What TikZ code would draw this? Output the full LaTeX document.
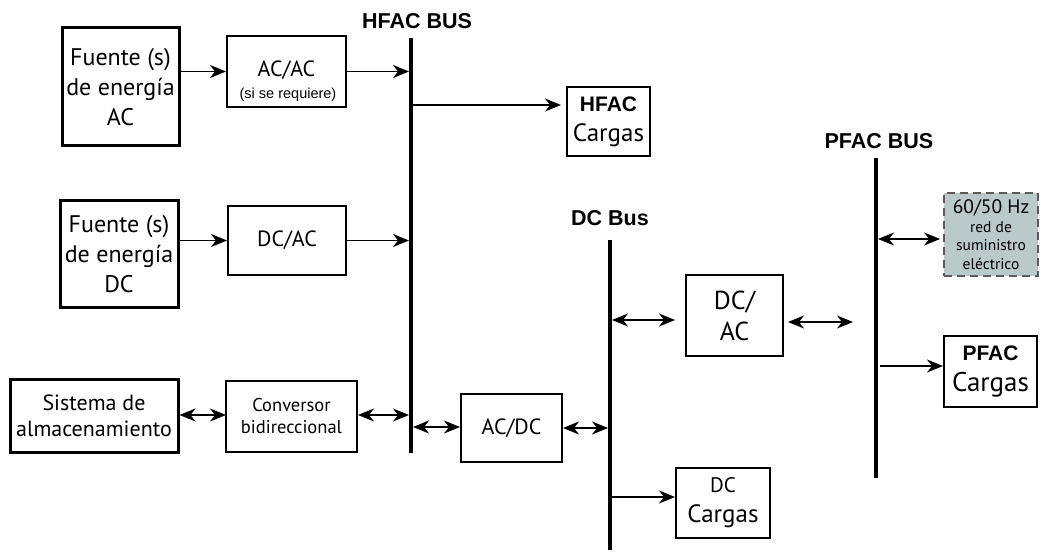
\documentclass[tikz,border=0pt]{standalone}
\usepackage{fontspec}
\setmainfont{PT Sans}
\newfontfamily\arialf{Liberation Sans}
\usetikzlibrary{arrows.meta}
\definecolor{gridfill}{RGB}{186,201,201}
\definecolor{griddash}{RGB}{90,90,90}
\tikzset{
  box/.style={draw, line width=2pt, inner sep=0pt, align=center},
  thickbox/.style={box, line width=3pt},
  bus/.style={line width=4pt},
  arr/.style={line width=1.8pt, -{Stealth[length=16pt,width=13pt,inset=5pt]}},
  darr/.style={line width=1.8pt, {Stealth[length=16pt,width=13pt,inset=5pt]}-{Stealth[length=16pt,width=13pt,inset=5pt]}},
  buslabel/.style={font=\arialf\bfseries\fontsize{21.5}{24}\selectfont},
  big/.style={font=\fontsize{24}{30}\selectfont},
  mid/.style={font=\fontsize{22}{26}\selectfont},
}
\begin{document}
\begin{tikzpicture}[x=1pt,y=-1pt]
\useasboundingbox (0,0) rectangle (1041,556);
% buses
\coordinate (hb1) at (411,38);  \coordinate (hb2) at (411,453);
\coordinate (db1) at (610,240); \coordinate (db2) at (610,550);
\coordinate (pb1) at (876,158); \coordinate (pb2) at (876,478);
\draw[bus] (hb1) -- (hb2);
\draw[bus] (db1) -- (db2);
\draw[bus] (pb1) -- (pb2);
\node[buslabel] (hbl) at (417,21) {HFAC BUS};
\node[buslabel] (dbl) at (610,218) {DC Bus};
\node[buslabel] (pbl) at (879,141) {PFAC BUS};
% boxes
\node[thickbox, big, minimum width=117pt, minimum height=118pt] (fac) at (120.5,87) {Fuente (s)\\de energía\\AC};
\node[box, minimum width=119pt, minimum height=71pt] (acac) at (286.5,71.5) {};
\node[mid] (acact) at (286.5,70) {AC/AC};
\node[font=\arialf\fontsize{14.5}{17}\selectfont] (acacs) at (288,95) {(si se requiere)};
\node[thickbox, big, minimum width=118pt, minimum height=106pt] (fdc) at (119,254) {Fuente (s)\\de energía\\DC};
\node[box, mid, minimum width=118pt, minimum height=69pt] (dcac) at (287,240.5) {DC/AC};
\node[thickbox, font=\fontsize{22}{26}\selectfont, minimum width=168pt, minimum height=73pt] (sis) at (94,415.5) {Sistema de\\almacenamiento};
\node[box, font=\fontsize{18.5}{22}\selectfont, minimum width=131pt, minimum height=71pt] (conv) at (291.5,416.5) {Conversor\\bidireccional};
\node[box, font=\fontsize{25}{30}\selectfont, minimum width=83pt, minimum height=69pt] (hfl) at (608.5,121.5) {{\arialf\bfseries\fontsize{21}{24}\selectfont HFAC}\\Cargas};
\node[box, mid, minimum width=101pt, minimum height=68pt] (acdc) at (511.5,428) {AC/DC};
\node[box, font=\fontsize{26}{31}\selectfont, minimum width=97pt, minimum height=81pt] (dcac2) at (734.5,315.5) {DC/\\AC};
\node[box, font=\fontsize{25}{30}\selectfont, minimum width=94pt, minimum height=70pt] (dcl) at (723,503) {{\fontsize{21}{24}\selectfont DC}\\Cargas};
\node[draw=griddash, dashed, dash pattern=on 8pt off 5pt, fill=gridfill, line width=1.8pt, inner sep=0pt, align=center, font=\fontsize{15.5}{18.5}\selectfont, minimum width=94pt, minimum height=83pt] (grid) at (991,234.5) {{\fontsize{19.5}{22}\selectfont 60/50 Hz}\\red de\\suministro\\eléctrico};
\node[box, font=\fontsize{27}{31}\selectfont, minimum width=93pt, minimum height=71pt] (pfl) at (990.5,371.5) {{\arialf\bfseries\fontsize{21}{24}\selectfont PFAC}\\Cargas};
% connectors
\draw[arr] (fac.east |- acac.west) -- (acac.west);
\draw[arr, shorten >=2pt] (acac.east) -- (acac.east -| hb1);
\coordinate (h3) at (411,105);
\draw[arr, line width=1.5pt, shorten <=2pt, shorten >=5pt] (h3) -- (h3 -| hfl.west);
\draw[arr] (fdc.east |- dcac.west) -- (dcac.west);
\draw[arr, shorten >=2pt] (dcac.east) -- (dcac.east -| hb1);
\coordinate (s6) at (226,415);
\draw[darr] (sis.east |- s6) -- (s6);
\draw[darr, shorten >=2pt] (conv.east |- s6) -- (s6 -| hb1);
\coordinate (a8) at (411,427);
\draw[darr, shorten <=2pt] (a8) -- (a8 -| acdc.west);
\draw[darr, shorten >=2pt] (acdc.east) -- (acdc.east -| db1);
\coordinate (d10) at (610,320);
\draw[darr, shorten <=2pt, shorten >=10pt] (d10) -- (d10 -| dcac2.west);
\coordinate (free) at (853,322);
\draw[darr, shorten <=4pt] (dcac2.east |- free) -- (free);
\coordinate (p12) at (876,239);
\draw[darr, shorten <=2pt, shorten >=3pt] (p12) -- (p12 -| grid.west);
\coordinate (p13) at (876,366);
\draw[arr, line width=1.5pt, shorten <=4pt] (p13) -- (p13 -| pfl.west);
\coordinate (d14) at (610,497);
\draw[arr, line width=1.5pt, shorten <=2pt] (d14) -- (d14 -| dcl.west);
\end{tikzpicture}
\end{document}
